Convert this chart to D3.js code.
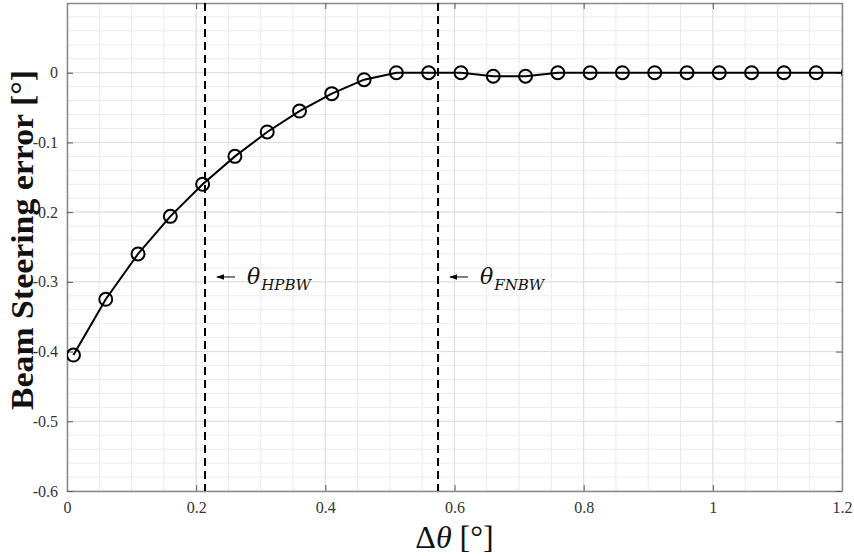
<!DOCTYPE html>
<html lang="en">
<head>
    <meta charset="UTF-8">
    <title>Beam Steering error</title>
    <script src="https://d3js.org/d3.v7.min.js"></script>
</head>
<body>
<style>
    body{
        margin: 0;
        background: #fff;
    }
</style>

<script>
    // data
    const deltaTheta = [0.01, 0.06, 0.11, 0.16, 0.21, 0.26, 0.31, 0.36, 0.41, 0.46, 0.51, 0.56,
        0.61, 0.66, 0.71, 0.76, 0.81, 0.86, 0.91, 0.96, 1.01, 1.06, 1.11, 1.16, 1.21];
    const steeringErr = [-0.405, -0.325, -0.26, -0.206, -0.16, -0.12, -0.085, -0.055, -0.03, -0.01, 0, 0,
        0, -0.005, -0.005, 0, 0, 0, 0, 0, 0, 0, 0, 0, 0];
    const xTicks = [0, 0.2, 0.4, 0.6, 0.8, 1, 1.2];
    const yTicks = [-0.6, -0.5, -0.4, -0.3, -0.2, -0.1, 0];
    const markers = [
        {name: "HPBW", x: 0.2137},
        {name: "FNBW", x: 0.5745}
    ];

    const W = 854, H = 556;
    const margin = {top: 3, right: 12, bottom: 65, left: 67};
    const w = W - margin.left - margin.right;
    const h = H - margin.top - margin.bottom;

    const x = d3.scaleLinear().domain([0, 1.2]).range([0, w]);
    const y = d3.scaleLinear().domain([-0.6, 0.1]).range([h, 0]);

    let svg = d3.select("body")
        .append("svg")
        .attr("width", W)
        .attr("height", H);

    let defs = svg.append("defs");
    defs.append("clipPath")
        .attr("id", "clip")
        .append("rect")
        .attr("width", w)
        .attr("height", h);

    defs.append("marker")
        .attr("id", "head")
        .attr("viewBox", "0 0 10 10")
        .attr("refX", 9).attr("refY", 5)
        .attr("markerWidth", 8).attr("markerHeight", 8)
        .attr("orient", "auto")
        .append("path")
        .attr("d", "M0,1.5 L10,5 L0,8.5 Z")
        .attr("fill", "#000");

    let g = svg.append("g")
        .attr("transform", "translate(" + margin.left + "," + margin.top + ")");

    // minor grid
    g.append("g")
        .selectAll("line")
        .data(d3.range(0.05, 1.2, 0.05))
        .enter()
        .append("line")
        .attr("x1", d => x(d)).attr("x2", d => x(d))
        .attr("y1", 0).attr("y2", h)
        .attr("stroke", "#ebebeb");
    g.append("g")
        .selectAll("line")
        .data(d3.range(-0.58, 0.1, 0.02))
        .enter()
        .append("line")
        .attr("y1", d => y(d)).attr("y2", d => y(d))
        .attr("x1", 0).attr("x2", w)
        .attr("stroke", "#ebebeb");

    // major grid
    g.append("g")
        .selectAll("line")
        .data(xTicks)
        .enter()
        .append("line")
        .attr("x1", d => x(d)).attr("x2", d => x(d))
        .attr("y1", 0).attr("y2", h)
        .attr("stroke", "#dedede");
    g.append("g")
        .selectAll("line")
        .data(yTicks)
        .enter()
        .append("line")
        .attr("y1", d => y(d)).attr("y2", d => y(d))
        .attr("x1", 0).attr("x2", w)
        .attr("stroke", "#dedede");

    // axes (box with inward ticks), plain hyphen for minus like the original
    const fmt = d => String(+d.toFixed(1));
    const styleAxis = function(sel, showLabels){
        sel.attr("font-family", null).attr("font-size", null);
        sel.select(".domain").attr("stroke", "#8a8a8a").attr("stroke-width", 1.5);
        sel.selectAll(".tick line").attr("stroke", "#555");
        sel.selectAll(".tick text")
            .style("font-family", "Liberation Serif, serif")
            .style("font-size", "16px")
            .attr("fill", "#333")
            .style("display", showLabels ? null : "none");
    };

    g.append("g")
        .attr("transform", "translate(0," + h + ")")
        .call(d3.axisBottom(x).tickValues(xTicks).tickFormat(fmt).tickSizeInner(-6).tickSizeOuter(0).tickPadding(11))
        .call(styleAxis, true);
    g.append("g")
        .call(d3.axisTop(x).tickValues(xTicks).tickSizeInner(-6).tickSizeOuter(0))
        .call(styleAxis, false);
    g.append("g")
        .call(d3.axisLeft(y).tickValues(yTicks).tickFormat(fmt).tickSizeInner(-6).tickSizeOuter(0).tickPadding(9))
        .call(styleAxis, true);
    g.append("g")
        .attr("transform", "translate(" + w + ",0)")
        .call(d3.axisRight(y).tickValues(yTicks).tickSizeInner(-6).tickSizeOuter(0))
        .call(styleAxis, false);

    // dashed beamwidth lines
    g.append("g")
        .selectAll("line")
        .data(markers)
        .enter()
        .append("line")
        .attr("x1", d => x(d.x)).attr("x2", d => x(d.x))
        .attr("y1", 0).attr("y2", h)
        .attr("stroke", "#000")
        .attr("stroke-width", 2)
        .attr("stroke-dasharray", "8,5");

    // annotations
    const ann = g.append("g")
        .selectAll("g")
        .data(markers)
        .enter()
        .append("g")
        .attr("transform", d => "translate(" + x(d.x) + "," + y(-0.293) + ")");
    ann.append("line")
        .attr("x1", 30).attr("x2", 12)
        .attr("y1", 0).attr("y2", 0)
        .attr("stroke", "#000")
        .attr("stroke-width", 1)
        .attr("marker-end", "url(#head)");
    let t = ann.append("text")
        .attr("x", 42)
        .attr("y", 7)
        .attr("font-family", "'DejaVu Serif', serif")
        .attr("font-style", "italic")
        .attr("font-size", 22)
        .attr("fill", "#111");
    t.append("tspan").text("θ");
    t.append("tspan")
        .attr("dy", 6)
        .attr("dx", 1)
        .attr("font-size", 15)
        .text(d => d.name);

    // data line + circles
    const pts = deltaTheta.map((d, i) => [d, steeringErr[i]]);
    let plot = g.append("g").attr("clip-path", "url(#clip)");
    plot.append("path")
        .datum(pts)
        .attr("fill", "none")
        .attr("stroke", "#000")
        .attr("stroke-width", 2)
        .attr("d", d3.line().x(d => x(d[0])).y(d => y(d[1])));
    plot.selectAll("circle")
        .data(pts)
        .enter()
        .append("circle")
        .attr("cx", d => x(d[0]))
        .attr("cy", d => y(d[1]))
        .attr("r", 6.5)
        .attr("fill", "none")
        .attr("stroke", "#000")
        .attr("stroke-width", 2);

    // axis titles
    let xl = svg.append("text")
        .attr("x", margin.left + w / 2)
        .attr("y", 548)
        .attr("text-anchor", "middle")
        .attr("font-family", "'Liberation Serif', serif")
        .attr("font-size", 32)
        .attr("fill", "#111");
    xl.append("tspan").text("Δ");
    xl.append("tspan").attr("font-style", "italic").text("θ");
    xl.append("tspan").text(" [°]");

    svg.append("text")
        .attr("transform", "translate(33," + (margin.top + 237) + ") rotate(-90)")
        .attr("text-anchor", "middle")
        .attr("font-family", "'Liberation Serif', serif")
        .attr("font-weight", "bold")
        .attr("font-size", 32)
        .attr("textLength", 340)
        .attr("lengthAdjust", "spacingAndGlyphs")
        .attr("fill", "#111")
        .text("Beam Steering error [°]");
</script>
</body>
</html>
